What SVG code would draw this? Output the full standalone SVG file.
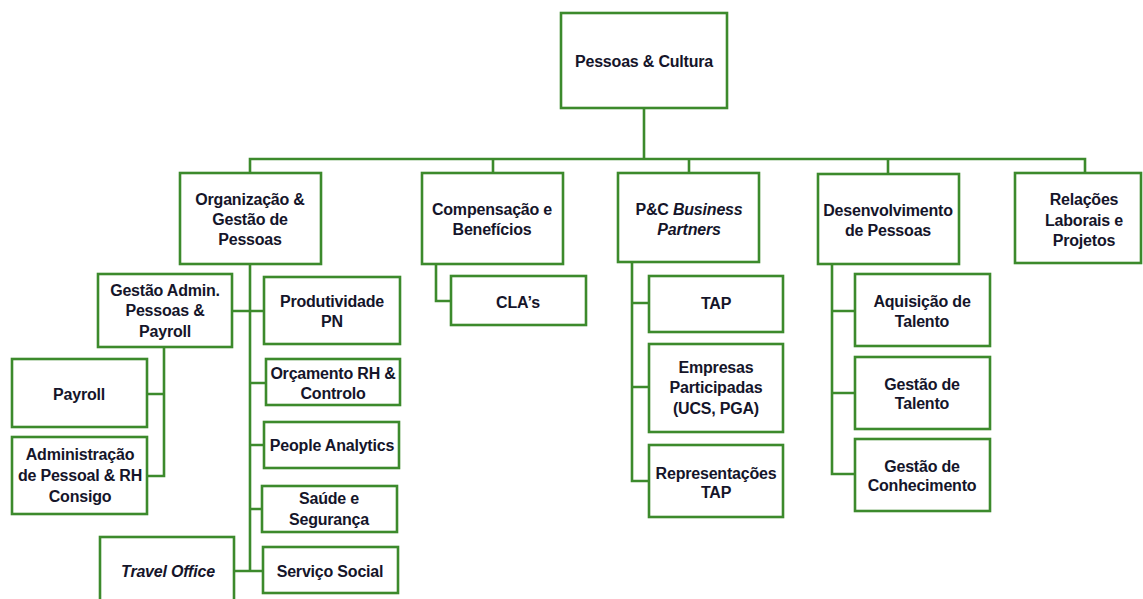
<svg xmlns="http://www.w3.org/2000/svg" width="1143" height="599" viewBox="0 0 1143 599">
<style>
.b{fill:#fff;stroke:#3c8a2c;stroke-width:2.6}
.c{fill:none;stroke:#3c8a2c;stroke-width:2.6}
text{font-family:"Liberation Sans",Arial,sans-serif;font-weight:bold;font-size:16px;letter-spacing:-0.2px;fill:#15152a;text-anchor:middle}
.i{font-style:italic}
</style>
<rect width="1143" height="599" fill="#fff"/>
<g id="connectors">
<path class="c" d="M644 108V159M250 173V159H1085V173M493 159V173M689 159V173M888 159V174"/>
<path class="c" d="M250 264V571M232 311H264M250 383H266M250 445H264M250 509H262M234 571H263"/>
<path class="c" d="M164 347V476H147M147 394H164"/>
<path class="c" d="M436 264V301H451"/>
<path class="c" d="M632 262V481H649M632 303H649M632 387H649"/>
<path class="c" d="M832 264V474H855M832 311H855M832 393H855"/>
</g>
<g id="root"><rect class="b" x="561" y="13" width="166" height="95"/><text x="644" y="67">Pessoas &amp; Cultura</text></g>
<g id="org"><rect class="b" x="180" y="173" width="141" height="91"/><text x="250" y="205">Organização &amp;</text><text x="250" y="225">Gestão de</text><text x="250" y="245">Pessoas</text></g>
<g id="comp"><rect class="b" x="422" y="173" width="141" height="91"/><text x="492" y="215">Compensação e</text><text x="492" y="235">Benefícios</text></g>
<g id="pcbp"><rect class="b" x="618" y="173" width="141" height="89"/><text x="689" y="215">P&amp;C <tspan class="i">Business</tspan></text><text x="689" y="235" class="i">Partners</text></g>
<g id="desenv"><rect class="b" x="818" y="174" width="141" height="90"/><text x="888" y="216">Desenvolvimento</text><text x="888" y="236">de Pessoas</text></g>
<g id="relacoes"><rect class="b" x="1015" y="173" width="126" height="90"/><text x="1084" y="205">Relações</text><text x="1084" y="226">Laborais e</text><text x="1084" y="246">Projetos</text></g>
<g id="gestaoadmin"><rect class="b" x="98" y="274" width="134" height="73"/><text x="165" y="296">Gestão Admin.</text><text x="165" y="316">Pessoas &amp;</text><text x="165" y="337">Payroll</text></g>
<g id="payroll"><rect class="b" x="12" y="359" width="135" height="68"/><text x="79" y="400">Payroll</text></g>
<g id="adminpessoal"><rect class="b" x="12" y="437" width="135" height="77"/><text x="80" y="460">Administração</text><text x="80" y="481">de Pessoal &amp; RH</text><text x="80" y="502">Consigo</text></g>
<g id="travel"><rect class="b" x="100" y="537" width="134" height="70"/><text x="168" y="577" class="i">Travel Office</text></g>
<g id="produtividade"><rect class="b" x="264" y="277" width="136" height="67"/><text x="332" y="307">Produtividade</text><text x="332" y="327">PN</text></g>
<g id="orcamento"><rect class="b" x="266" y="359" width="134" height="46"/><text x="333" y="379">Orçamento RH &amp;</text><text x="333" y="399">Controlo</text></g>
<g id="analytics"><rect class="b" x="264" y="422" width="135" height="46"/><text x="332" y="451">People Analytics</text></g>
<g id="saude"><rect class="b" x="262" y="486" width="135" height="46"/><text x="329" y="504">Saúde e</text><text x="329" y="525">Segurança</text></g>
<g id="servico"><rect class="b" x="263" y="547" width="135" height="46"/><text x="330" y="577">Serviço Social</text></g>
<g id="clas"><rect class="b" x="451" y="276" width="135" height="49"/><text x="518" y="308">CLA’s</text></g>
<g id="tap"><rect class="b" x="649" y="276" width="134" height="56"/><text x="716" y="309">TAP</text></g>
<g id="empresas"><rect class="b" x="649" y="344" width="134" height="88"/><text x="716" y="373">Empresas</text><text x="716" y="393">Participadas</text><text x="716" y="414">(UCS, PGA)</text></g>
<g id="representacoes"><rect class="b" x="649" y="445" width="134" height="72"/><text x="716" y="479">Representações</text><text x="716" y="498">TAP</text></g>
<g id="aquisicao"><rect class="b" x="855" y="274" width="135" height="72"/><text x="922" y="307">Aquisição de</text><text x="922" y="327">Talento</text></g>
<g id="gestaotalento"><rect class="b" x="855" y="357" width="135" height="72"/><text x="922" y="390">Gestão de</text><text x="922" y="409">Talento</text></g>
<g id="conhecimento"><rect class="b" x="855" y="439" width="135" height="72"/><text x="922" y="472">Gestão de</text><text x="922" y="491">Conhecimento</text></g>
</svg>
